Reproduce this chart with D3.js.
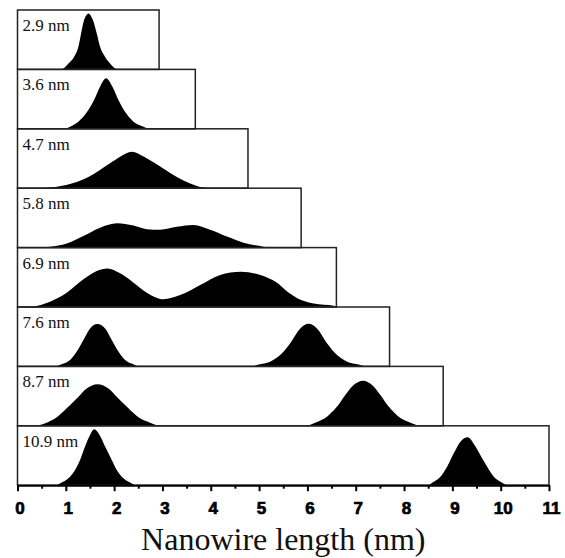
<!DOCTYPE html>
<html>
<head>
<meta charset="utf-8">
<script src="https://cdn.jsdelivr.net/npm/d3@7"></script>
<style>
  body { margin: 0; background: #fff; }
</style>
</head>
<body>
<div id="plotDiv"></div>
<script>
// panel labels (mean length) and where each panel box ends on the x axis (nm)
var lengths = ["2.9 nm", "3.6 nm", "4.7 nm", "5.8 nm", "6.9 nm", "7.6 nm", "8.7 nm", "10.9 nm"];
var boxEnds = [2.93, 3.68, 4.77, 5.87, 6.6, 7.7, 8.81, 11];

// distribution outlines: [length nm, relative height 0..1]
var dist29 = [[0.9, 0], [0.95, 0.017], [1.053, 0.10], [1.17, 0.21], [1.26, 0.38], [1.316, 0.606], [1.378, 0.83], [1.468, 0.943],
  [1.56, 0.83], [1.64, 0.606], [1.709, 0.38], [1.813, 0.21], [1.916, 0.10], [2.02, 0.017], [2.1, 0]];
var dist36 = [[1.0, 0], [1.088, 0.036], [1.26, 0.12], [1.419, 0.26], [1.585, 0.485], [1.709, 0.71], [1.834, 0.85],
  [1.965, 0.71], [2.089, 0.485], [2.248, 0.26], [2.40, 0.12], [2.607, 0.036], [2.7, 0]];
var dist47 = [[0.55, 0], [0.673, 0.01], [1.122, 0.08], [1.467, 0.19], [1.916, 0.42], [2.124, 0.53], [2.365, 0.615],
  [2.62, 0.53], [2.849, 0.42], [3.297, 0.19], [3.574, 0.08], [3.85, 0.01], [4.0, 0]];
var dist58 = [[0.5, 0], [0.673, 0.016], [1.019, 0.07], [1.364, 0.195], [1.709, 0.335], [2.06, 0.41], [2.40, 0.37],
  [2.677, 0.31], [2.952, 0.30], [3.298, 0.35], [3.642, 0.38], [3.988, 0.30], [4.334, 0.185], [4.678, 0.083],
  [5.092, 0.016], [5.25, 0]];
var dist69 = [[0.2, 0], [0.328, 0.01], [0.673, 0.09], [1.019, 0.24], [1.364, 0.466], [1.64, 0.606], [1.861, 0.65],
  [2.124, 0.567], [2.40, 0.41], [2.677, 0.24], [3.02, 0.13], [3.366, 0.20], [3.781, 0.37], [4.195, 0.54],
  [4.624, 0.595], [5.024, 0.54], [5.35, 0.42], [5.6, 0.25], [5.8, 0.145], [6.13, 0.06], [6.55, 0.02], [6.6, 0]];
var dist76 = [[0.8, 0], [0.915, 0.035], [1.088, 0.108], [1.226, 0.25], [1.364, 0.445], [1.502, 0.64], [1.654, 0.714],
  [1.813, 0.64], [1.951, 0.445], [2.089, 0.25], [2.227, 0.108], [2.40, 0.035], [2.5, 0],
  [4.85, 0], [4.99, 0.03], [5.23, 0.08], [5.437, 0.19], [5.645, 0.39], [5.852, 0.64], [6.025, 0.72],
  [6.198, 0.64], [6.405, 0.39], [6.613, 0.19], [6.82, 0.08], [7.06, 0.03], [7.2, 0]];
var dist87 = [[0.4, 0], [0.605, 0.053], [0.812, 0.143], [1.019, 0.294], [1.226, 0.46], [1.433, 0.63], [1.654, 0.70],
  [1.881, 0.63], [2.089, 0.46], [2.296, 0.294], [2.503, 0.143], [2.745, 0.053], [2.95, 0],
  [5.95, 0], [6.198, 0.064], [6.405, 0.154], [6.613, 0.323], [6.785, 0.52], [6.957, 0.687], [7.151, 0.76],
  [7.338, 0.687], [7.51, 0.52], [7.682, 0.323], [7.889, 0.154], [8.096, 0.064], [8.3, 0]];
var dist109 = [[0.8, 0], [0.88, 0.03], [1.053, 0.116], [1.191, 0.256], [1.295, 0.424], [1.398, 0.65], [1.502, 0.845],
  [1.585, 0.94], [1.709, 0.83], [1.813, 0.65], [1.951, 0.424], [2.054, 0.256], [2.192, 0.116], [2.365, 0.03], [2.45, 0],
  [8.5, 0], [8.581, 0.043], [8.753, 0.144], [8.891, 0.312], [9.029, 0.536], [9.167, 0.733], [9.319, 0.806],
  [9.478, 0.65], [9.616, 0.452], [9.72, 0.312], [9.857, 0.144], [10.03, 0.043], [10.12, 0]];
var profiles = [dist29, dist36, dist47, dist58, dist69, dist76, dist87, dist109];

var majorTicks = [0, 1, 2, 3, 4, 5, 6, 7, 8, 9, 10, 11];
var minorTicks = [0.5, 1.5, 2.5, 3.5, 4.5, 5.5, 6.5, 7.5, 8.5, 9.5, 10.5];

var width = 565, height = 558;
var svg = d3.select("#plotDiv").append("svg")
    .attr("width", width)
    .attr("height", height);

var xScale = d3.scaleLinear().domain([0, 11]).range([17.5, 549]);
var band = d3.scaleBand().domain(lengths).range([10, 485.2]);
var yScale = d3.scaleLinear().domain([0, 1]).range([band.bandwidth(), 0]);

var area = d3.area()
    .x(function (d) { return xScale(d[0]); })
    .y0(yScale(0))
    .y1(function (d) { return yScale(d[1]); })
    .curve(d3.curveMonotoneX);

var panels = svg.selectAll("g.panel").data(lengths).enter().append("g")
    .attr("class", "panel")
    .attr("transform", function (d) { return "translate(0," + band(d) + ")"; });

panels.append("path")
    .attr("d", function (d, i) { return area(profiles[i]); })
    .attr("fill", "#000");

panels.append("rect")
    .attr("x", xScale(0))
    .attr("y", 0)
    .attr("width", function (d, i) { return xScale(boxEnds[i]) - xScale(0); })
    .attr("height", band.bandwidth())
    .attr("fill", "none")
    .attr("stroke", "#222")
    .attr("stroke-width", 1.5);

panels.append("text")
    .attr("x", xScale(0) + 5)
    .attr("y", 21)
    .attr("font-family", "'Liberation Serif', 'Times New Roman', serif")
    .attr("font-size", 17)
    .attr("fill", "#111")
    .text(function (d) { return d; });

// x axis along the bottom of the last panel
var axisY = band.range()[1];
var xAxis = d3.axisBottom(xScale).tickValues(majorTicks).tickSize(6).tickSizeOuter(0).tickPadding(11)
    .tickFormat(d3.format("d"));
var gx = svg.append("g").attr("transform", "translate(0," + axisY + ")").call(xAxis);
gx.select(".domain").attr("stroke", "#000").attr("stroke-width", 2);
gx.selectAll(".tick line").attr("stroke", "#000").attr("stroke-width", 2);
gx.selectAll(".tick text")
    .attr("font-family", "'Liberation Sans', Arial, sans-serif")
    .attr("font-weight", "bold")
    .attr("font-size", 17)
    .attr("dx", 2)
    .attr("fill", "#000")
    .attr("stroke", "#000")
    .attr("stroke-width", 0.7);

var minorAxis = d3.axisBottom(xScale).tickValues(minorTicks).tickSize(3.5).tickFormat("");
var gm = svg.append("g").attr("transform", "translate(0," + axisY + ")").call(minorAxis);
gm.select(".domain").remove();
gm.selectAll(".tick line").attr("stroke", "#000").attr("stroke-width", 2);

svg.append("text")
    .attr("x", (xScale(0) + xScale(11)) / 2)
    .attr("y", 550)
    .attr("text-anchor", "middle")
    .attr("font-family", "'Liberation Serif', 'Times New Roman', serif")
    .attr("font-size", 32)
    .attr("fill", "#111")
    .text("Nanowire length (nm)");
</script>
</body>
</html>
